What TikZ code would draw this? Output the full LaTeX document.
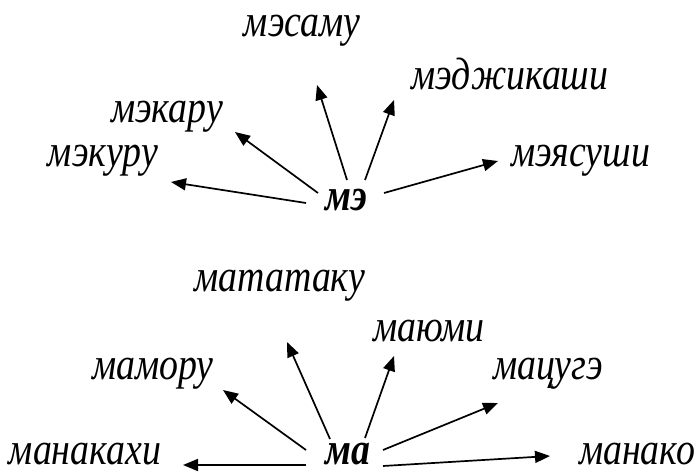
\documentclass[tikz,border=0pt]{standalone}
\usepackage{fontspec}
\setmainfont{Liberation Serif}
\usetikzlibrary{arrows.meta}
\newcommand{\tallword}[1]{\scalebox{1}[1.2]{#1}}
\tikzset{
  word/.style={font=\fontsize{38}{42}\selectfont\itshape, inner sep=0pt, anchor=center},
  root/.style={font=\fontsize{38}{42}\selectfont\bfseries\itshape, inner sep=0pt, anchor=center},
  link/.style={line width=1.7bp, -{Triangle[length=15bp,width=12bp]}}
}
\begin{document}
\begin{tikzpicture}[x=1bp, y=-1bp]
\useasboundingbox (0,0) rectangle (698,473);
% first family: words with the root "мэ"
\node[root] (me) at (346,200) {\tallword{мэ}};
\node[word] (mesamu) at (302,31) {\tallword{мэсаму}};
\node[word] (medzh) at (510,74) {\tallword{мэджикаши}};
\node[word] (mekaru) at (167,117) {\tallword{мэкару}};
\node[word] (mekuru) at (103,161) {\tallword{мэкуру}};
\node[word] (meyas) at (581,161) {\tallword{мэясуши}};
\coordinate (s1) at (306,203); \coordinate (t1) at (171,182);
\coordinate (s2) at (318,193); \coordinate (t2) at (235,132);
\coordinate (s3) at (347,180); \coordinate (t3) at (317,85);
\coordinate (s4) at (365,180); \coordinate (t4) at (394,100);
\coordinate (s5) at (384,193); \coordinate (t5) at (498,161);
\draw[link] (s1) -- (t1);
\draw[link] (s2) -- (t2);
\draw[link] (s3) -- (t3);
\draw[link] (s4) -- (t4);
\draw[link] (s5) -- (t5);
% second family: words with the root "ма"
\node[root] (ma) at (348,454) {\tallword{ма}};
\node[word] (matat) at (280,286) {\tallword{мататаку}};
\node[word] (mayumi) at (429,331) {\tallword{маюми}};
\node[word] (mamoru) at (153,374) {\tallword{мамору}};
\node[word] (matsuge) at (548,374) {\tallword{мацугэ}};
\node[word] (manakahi) at (85,454) {\tallword{манакахи}};
\node[word] (manako) at (637,454) {\tallword{манако}};
\coordinate (u1) at (306,465); \coordinate (v1) at (183,465);
\coordinate (u2) at (306,450); \coordinate (v2) at (223,390);
\coordinate (u3) at (330,439); \coordinate (v3) at (287,342);
\coordinate (u4) at (365,438); \coordinate (v4) at (394,356);
\coordinate (u5) at (383,450); \coordinate (v5) at (498,403);
\coordinate (u6) at (383,466); \coordinate (v6) at (550,456);
\draw[link] (u1) -- (v1);
\draw[link] (u2) -- (v2);
\draw[link] (u3) -- (v3);
\draw[link] (u4) -- (v4);
\draw[link] (u5) -- (v5);
\draw[link] (u6) -- (v6);
\end{tikzpicture}
\end{document}
